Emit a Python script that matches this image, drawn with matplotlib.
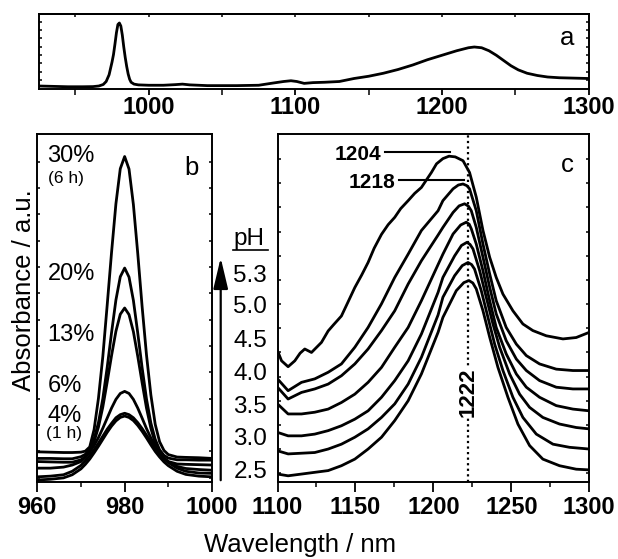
import matplotlib
matplotlib.use('Agg')
import matplotlib.pyplot as plt
from matplotlib.lines import Line2D
from matplotlib.patches import FancyArrowPatch
import numpy as np

plt.rcParams['font.family'] = ['Liberation Sans', 'DejaVu Sans']

# ---------------- data ----------------
# panel a : full spectrum
wl_a = [925, 935, 945, 955, 962, 966, 969, 971, 973, 975, 976, 977, 978, 979, 980, 981, 982,
        983, 984, 985, 986, 987, 988, 990, 993, 1000, 1010, 1018, 1023, 1028, 1040, 1060, 1075,
        1085, 1092, 1097, 1101, 1106, 1112, 1120, 1130, 1140, 1150, 1160, 1170, 1180, 1190,
        1200, 1210, 1218, 1222, 1227, 1232, 1237, 1242, 1247, 1252, 1258, 1265, 1272, 1280,
        1290, 1300]
abs_a = [0.04, 0.035, 0.03, 0.03, 0.032, 0.04, 0.06, 0.10, 0.19, 0.36, 0.46, 0.60, 0.75, 0.86,
         0.88, 0.84, 0.72, 0.56, 0.42, 0.30, 0.20, 0.13, 0.09, 0.065, 0.055, 0.05, 0.05, 0.058,
         0.065, 0.055, 0.045, 0.045, 0.05, 0.08, 0.10, 0.11, 0.10, 0.075, 0.085, 0.09, 0.10,
         0.14, 0.17, 0.21, 0.26, 0.32, 0.39, 0.45, 0.51, 0.55, 0.56, 0.55, 0.51, 0.45, 0.38,
         0.31, 0.255, 0.21, 0.18, 0.16, 0.15, 0.145, 0.14]

# panel b : 980 nm band vs. time
wl_b = [960, 963, 966, 968, 970, 971, 972, 973, 974, 975, 976, 977, 978, 979, 980, 981, 982,
        983, 984, 985, 986, 987, 988, 989, 990, 992, 994, 997, 1000]
b_30 = [0.086, 0.085, 0.084, 0.084, 0.085, 0.088, 0.10, 0.15, 0.24, 0.36, 0.508, 0.66, 0.80,
        0.901, 0.936, 0.90, 0.798, 0.657, 0.504, 0.365, 0.25, 0.165, 0.115, 0.09, 0.078, 0.071,
        0.070, 0.069, 0.067]
b_20 = [0.067, 0.067, 0.066, 0.066, 0.072, 0.079, 0.094, 0.123, 0.17, 0.239, 0.329, 0.429,
        0.523, 0.59, 0.615, 0.589, 0.522, 0.428, 0.328, 0.238, 0.169, 0.122, 0.092, 0.076,
        0.068, 0.063, 0.063, 0.062, 0.062]
b_13 = [0.058, 0.057, 0.056, 0.056, 0.063, 0.072, 0.088, 0.115, 0.157, 0.215, 0.287, 0.363,
        0.433, 0.482, 0.50, 0.481, 0.432, 0.361, 0.285, 0.212, 0.154, 0.111, 0.084, 0.067,
        0.058, 0.051, 0.05, 0.049, 0.048]
b_6 = [0.039, 0.039, 0.042, 0.048, 0.058, 0.070, 0.085, 0.104, 0.127, 0.154, 0.183, 0.212,
       0.237, 0.254, 0.26, 0.254, 0.237, 0.212, 0.183, 0.153, 0.126, 0.103, 0.084, 0.069, 0.057,
       0.044, 0.038, 0.035, 0.033]
b_4a = [0.014, 0.016, 0.020, 0.030, 0.047, 0.060, 0.075, 0.092, 0.111, 0.131, 0.151, 0.168,
        0.184, 0.193, 0.197, 0.193, 0.184, 0.170, 0.153, 0.134, 0.114, 0.096, 0.080, 0.066,
        0.055, 0.039, 0.030, 0.025, 0.024]
b_4b = [0.005, 0.007, 0.011, 0.020, 0.037, 0.050, 0.065, 0.083, 0.102, 0.122, 0.142, 0.160,
        0.175, 0.185, 0.189, 0.185, 0.176, 0.162, 0.145, 0.126, 0.106, 0.087, 0.071, 0.057,
        0.046, 0.030, 0.021, 0.016, 0.014]
b_curves = [b_30, b_20, b_13, b_6, b_4a, b_4b]
b_pct = ['30%', '20%', '13%', '6%', '4%']

# panel c : 1100-1300 nm band vs. pH
c1_x = [1100, 1102.6, 1106.8, 1111.1, 1114.5, 1117.5, 1121.8, 1128.2, 1132.5, 1136.0, 1141.0,
        1145.0, 1149.6, 1154.0, 1158.1, 1162.0, 1166.7, 1171.0, 1175.2, 1179.0, 1183.8, 1188.0,
        1192.3, 1198.7, 1202.0, 1206.1, 1210.0, 1214.0, 1219.0, 1223.2, 1227.5, 1231.8, 1236.1,
        1240.3, 1244.6, 1251.0, 1257.4, 1263.8, 1272.4, 1283.1, 1291.6, 1300]
c1_y = [0.377, 0.348, 0.331, 0.348, 0.370, 0.382, 0.372, 0.401, 0.434, 0.452, 0.477, 0.515,
        0.559, 0.595, 0.631, 0.672, 0.712, 0.740, 0.761, 0.786, 0.809, 0.830, 0.847, 0.89,
        0.915, 0.93, 0.937, 0.935, 0.924, 0.89, 0.819, 0.723, 0.646, 0.588, 0.54, 0.492, 0.454,
        0.435, 0.42, 0.411, 0.415, 0.43]
c2_x = [1100, 1106.8, 1115.4, 1123.9, 1132.5, 1141.0, 1149.6, 1158.1, 1166.7, 1175.2, 1183.8,
        1192.3, 1203.0, 1206.1, 1212.6, 1216.0, 1219.0, 1221.5, 1223.2, 1227.5, 1231.8, 1236.1,
        1240.3, 1246.7, 1253.2, 1259.6, 1268.1, 1278.8, 1289.5, 1300]
c2_y = [0.296, 0.262, 0.286, 0.296, 0.315, 0.339, 0.387, 0.444, 0.512, 0.588, 0.655, 0.723,
        0.78, 0.809, 0.843, 0.854, 0.857, 0.852, 0.843, 0.78, 0.684, 0.598, 0.521, 0.444, 0.396,
        0.363, 0.339, 0.324, 0.32, 0.32]
c3_x = [1100, 1106.8, 1115.4, 1123.9, 1132.5, 1141.0, 1149.6, 1158.1, 1166.7, 1175.2, 1183.8,
        1192.3, 1203.0, 1206.1, 1212.6, 1216.5, 1220.0, 1222.5, 1224.3, 1227.5, 1231.8, 1236.1,
        1240.3, 1246.7, 1253.2, 1259.6, 1268.1, 1278.8, 1289.5, 1300]
c3_y = [0.272, 0.238, 0.257, 0.267, 0.281, 0.305, 0.339, 0.382, 0.435, 0.492, 0.569, 0.636,
        0.71, 0.732, 0.775, 0.794, 0.80, 0.793, 0.78, 0.732, 0.646, 0.56, 0.483, 0.406, 0.353,
        0.32, 0.291, 0.272, 0.267, 0.267]
c4_x = [1100, 1106.8, 1115.4, 1123.9, 1132.5, 1141.0, 1149.6, 1158.1, 1166.7, 1175.2, 1183.8,
        1192.3, 1203.0, 1206.1, 1212.6, 1217.5, 1221.1, 1223.0, 1224.3, 1227.5, 1231.8, 1236.1,
        1240.3, 1246.7, 1253.2, 1259.6, 1268.1, 1278.8, 1289.5, 1300]
c4_y = [0.224, 0.195, 0.195, 0.2, 0.209, 0.228, 0.252, 0.286, 0.329, 0.387, 0.444, 0.521,
        0.625, 0.655, 0.713, 0.739, 0.747, 0.741, 0.728, 0.684, 0.607, 0.521, 0.444, 0.368,
        0.31, 0.272, 0.243, 0.219, 0.209, 0.204]
c5_x = [1100, 1106.8, 1115.4, 1123.9, 1132.5, 1141.0, 1149.6, 1158.1, 1166.7, 1175.2, 1183.8,
        1192.3, 1203.0, 1206.1, 1213.6, 1218.0, 1221.5, 1223.5, 1225.4, 1229.7, 1233.9, 1238.2,
        1242.5, 1248.9, 1255.3, 1261.7, 1270.2, 1280.9, 1291.6, 1300]
c5_y = [0.142, 0.132, 0.132, 0.137, 0.147, 0.161, 0.18, 0.204, 0.243, 0.291, 0.348, 0.425,
        0.545, 0.588, 0.65, 0.68, 0.689, 0.683, 0.67, 0.607, 0.531, 0.454, 0.387, 0.31, 0.252,
        0.214, 0.185, 0.166, 0.156, 0.152]
c6_x = [1100, 1106.8, 1115.4, 1123.9, 1132.5, 1141.0, 1149.6, 1158.1, 1166.7, 1175.2, 1183.8,
        1192.3, 1203.0, 1206.1, 1213.6, 1218.5, 1222.2, 1224.5, 1226.4, 1230.7, 1235.0, 1239.3,
        1244.6, 1251.0, 1257.4, 1266.0, 1276.7, 1287.3, 1300]
c6_y = [0.089, 0.08, 0.082, 0.084, 0.094, 0.108, 0.128, 0.152, 0.185, 0.224, 0.281, 0.358,
        0.48, 0.531, 0.593, 0.622, 0.631, 0.625, 0.612, 0.55, 0.473, 0.396, 0.32, 0.243, 0.185,
        0.137, 0.108, 0.099, 0.094]
c7_x = [1100, 1106.8, 1115.4, 1123.9, 1132.5, 1141.0, 1149.6, 1158.1, 1166.7, 1175.2, 1183.8,
        1192.3, 1203.0, 1206.1, 1214.7, 1219.5, 1222.8, 1225.3, 1227.5, 1231.8, 1236.1, 1241.4,
        1247.8, 1254.2, 1261.7, 1270.2, 1280.9, 1291.6, 1300]
c7_y = [0.022, 0.017, 0.022, 0.027, 0.032, 0.046, 0.065, 0.094, 0.128, 0.176, 0.233, 0.31,
        0.43, 0.473, 0.55, 0.573, 0.579, 0.572, 0.555, 0.492, 0.416, 0.329, 0.243, 0.166, 0.104,
        0.065, 0.046, 0.036, 0.034]
c_curves = [(c1_x, c1_y), (c2_x, c2_y), (c3_x, c3_y), (c4_x, c4_y),
            (c5_x, c5_y), (c6_x, c6_y), (c7_x, c7_y)]
ph_labels = ['5.3', '5.0', '4.5', '4.0', '3.5', '3.0', '2.5']
peak_labels = ['1204', '1218']
iso_line = 1222

# ---------------- figure ----------------
W, H = 618, 559
fig = plt.figure(figsize=(W / 100, H / 100), dpi=100)


def box(x0, y0, x1, y1):
    return [x0 / W, 1 - y1 / H, (x1 - x0) / W, (y1 - y0) / H]


def fx(x):
    return x / W


def fy(y):
    return 1 - y / H


ax_a = fig.add_axes(box(38.7, 14, 588.7, 89))
ax_b = fig.add_axes(box(37.3, 134.3, 212, 481.7))
ax_c = fig.add_axes(box(277.5, 134.3, 589.3, 481.7))

LW = 2.0
for ax in (ax_a, ax_b, ax_c):
    for s in ax.spines.values():
        s.set_linewidth(1.4)
    ax.set_ylim(0, 1)
    ax.tick_params(axis='y', which='both', direction='in', left=True, right=True,
                   labelleft=False, length=2.5, width=1.1)
    ax.tick_params(axis='x', which='major', direction='out', length=7, width=1.3,
                   labelsize=17, pad=3)
    ax.tick_params(axis='x', which='minor', direction='out', length=3.5, width=1.1)

# panel a
ax_a.plot(wl_a, abs_a, color='black', lw=LW)
ax_a.set_xlim(925, 1300)
ax_a.set_xticks([1000, 1100, 1200, 1300])
ax_a.set_xticks([950, 1050, 1150, 1250], minor=True)
ax_a.set_yticks(np.arange(0.12, 1.0, 0.111))
ax_a.tick_params(axis='x', which='both', length=4, pad=1)
sec = ax_a.secondary_xaxis('top')
sec.set_xticks([950, 1000, 1050, 1100, 1150, 1200, 1250])
sec.tick_params(direction='in', length=2.5, width=1.1, labeltop=False)
sec.spines['top'].set_linewidth(1.4)

# panel b
for yv in b_curves:
    ax_b.plot(wl_b, yv, color='black', lw=LW)
ax_b.set_xlim(960, 1000)
ax_b.set_xticks([960, 980, 1000])
ax_b.set_xticks([970, 990], minor=True)
ax_b.set_yticks(np.arange(0.921, 0.0, -0.0758))

# panel c
for xv, yv in c_curves:
    ax_c.plot(xv, yv, color='black', lw=LW)
ax_c.set_xlim(1100, 1300)
ax_c.set_xticks([1100, 1150, 1200, 1250, 1300])
ax_c.set_xticks([1125, 1175, 1225, 1275], minor=True)
ax_c.set_yticks(np.arange(0.929, 0.0, -0.0696))
ax_c.axvline(iso_line, color='black', lw=1.6, ls=(0, (1, 1.5)), zorder=1)
ax_c.text(iso_line, 0.257, str(iso_line), rotation=90, ha='center', va='center',
          fontsize=16, fontweight='bold',
          bbox=dict(facecolor='white', edgecolor='none', pad=0.5), zorder=3)
# peak marker lines
ax_c.plot([1169.0, 1210.7], [0.948, 0.948], color='black', lw=1.5)
ax_c.plot([1178.0, 1219.6], [0.868, 0.868], color='black', lw=1.5)
ax_c.text(1166.8, 0.926, peak_labels[0], ha='right', va='baseline', fontsize=15,
          fontweight='bold')
ax_c.text(1175.4, 0.845, peak_labels[1], ha='right', va='baseline', fontsize=15,
          fontweight='bold')

for lab in list(ax_a.get_xticklabels()) + list(ax_b.get_xticklabels()) + list(ax_c.get_xticklabels()):
    lab.set_fontweight('bold')

# panel letters
fig.text(fx(567.5), fy(45), 'a', ha='center', va='baseline', fontsize=18.5)
fig.text(fx(191.5), fy(175), 'b', ha='center', va='baseline', fontsize=18.5)
fig.text(fx(567.5), fy(172.3), 'c', ha='center', va='baseline', fontsize=18.5)

# panel b labels
pct_base = [161.7, 280, 341, 391.7, 421.7]
for t, yb in zip(b_pct, pct_base):
    fig.text(fx(47.5), fy(yb), t, ha='left', va='baseline', fontsize=17)
fig.text(fx(48), fy(182.7), '(6 h)', ha='left', va='baseline', fontsize=12.5)
fig.text(fx(46.5), fy(438), '(1 h)', ha='left', va='baseline', fontsize=12.5)

# pH labels
fig.text(fx(233.3), fy(245), 'pH', ha='left', va='baseline', fontsize=17.5)
fig.add_artist(Line2D([fx(233.3), fx(268)], [fy(249.5), fy(249.5)], color='black', lw=1.2))
ph_base = [281.7, 313.3, 346.7, 380, 413.3, 445, 478.3]
for t, yb in zip(ph_labels, ph_base):
    fig.text(fx(233.3), fy(yb), t, ha='left', va='baseline', fontsize=17.5)
arrow = FancyArrowPatch((fx(220.7), fy(483)), (fx(220.7), fy(255)),
                        transform=fig.transFigure,
                        arrowstyle='-|>,head_length=1.9,head_width=0.45',
                        mutation_scale=10, color='black', lw=1.6)
fig.add_artist(arrow)

# axis labels
fig.text(fx(300), fy(552), 'Wavelength / nm', ha='center', va='baseline', fontsize=18.5)
fig.text(fx(24), fy(290), 'Absorbance / a.u.', ha='center', va='center', rotation=90,
         fontsize=18.5)

fig.savefig('out.png', dpi=100)
